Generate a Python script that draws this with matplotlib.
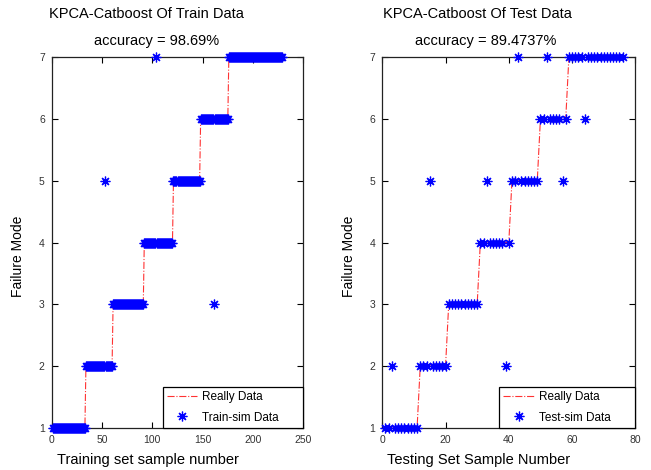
import numpy as np
import matplotlib
matplotlib.use("Agg")
import matplotlib.pyplot as plt

plt.rcParams['font.family'] = ['Liberation Sans', 'DejaVu Sans']

# sample counts per failure mode (modes 1..7)
train_counts = [33, 27, 31, 29, 27, 28, 54]
test_counts = [11, 9, 10, 10, 9, 9, 18]

# misclassified samples: (sample number, predicted mode)
train_errors = [(53, 5), (104, 7), (161, 3)]
test_errors = [(3, 2), (15, 5), (33, 5), (39, 2), (43, 7), (52, 7), (57, 5), (64, 6)]

train_title = 'KPCA-Catboost Of Train Data'
test_title = 'KPCA-Catboost Of Test Data'
train_acc = 'accuracy = 98.69%'
test_acc = 'accuracy = 89.4737%'


def build(counts, errors):
    true = np.repeat(np.arange(1, 8), counts)
    pred = true.copy()
    for idx, p in errors:
        pred[idx - 1] = p
    return true, pred


def panel(ax, counts, errors, xmax, xticks, xlabel, simlabel, leg_x0):
    true, pred = build(counts, errors)
    x = np.arange(1, len(true) + 1)
    ax.plot(x, true, color='#ff3333', linestyle='-.', linewidth=0.8, label='Really Data')
    ax.plot(x, pred, linestyle='none', marker=(8, 2, 0), markersize=7,
            markeredgewidth=0.9, color='#0000ff', label=simlabel, clip_on=False,
            zorder=3)
    ax.set_xlim(0, xmax)
    ax.set_ylim(1, 7)
    ax.set_xticks(xticks)
    ax.set_yticks(range(1, 8))
    ax.tick_params(direction='in', top=True, right=True, labelsize=7.5,
                   labelcolor='#333333', length=4, width=0.8, pad=5)
    for s in ax.spines.values():
        s.set_linewidth(0.9)
        s.set_color('#222222')
    ax.set_xlabel(xlabel, fontsize=10.5)
    ax.set_ylabel('Failure Mode', fontsize=10)
    ax.xaxis.set_label_coords(0.382, -0.068)
    ax.yaxis.set_label_coords(-0.105, 0.462)
    leg = ax.legend(loc='lower left', bbox_to_anchor=(leg_x0, 0, 1 - leg_x0, 0.11),
                    mode='expand', fontsize=8.5, fancybox=False, framealpha=1,
                    edgecolor='black', borderpad=0.35, labelspacing=0.75,
                    handlelength=2.6, handletextpad=0.4, borderaxespad=0)
    leg.get_frame().set_linewidth(0.9)
    leg.set_zorder(5)


fig = plt.figure(figsize=(6.51, 4.70), dpi=100)
ax1 = fig.add_axes([51.7 / 651, 1 - 427.7 / 470, 251.6 / 651, 370.4 / 470])
ax2 = fig.add_axes([382.3 / 651, 1 - 427.7 / 470, 253.0 / 651, 370.4 / 470])

panel(ax1, train_counts, train_errors, 250, [0, 50, 100, 150, 200, 250],
      'Training set sample number', 'Train-sim Data', 0.441)
panel(ax2, test_counts, test_errors, 80, [0, 20, 40, 60, 80],
      'Testing Set Sample Number', 'Test-sim Data', 0.462)

fig.text(146.5 / 651, 1 - 14 / 470, train_title, ha='center', va='center', fontsize=10.5)
fig.text(157 / 651, 1 - 41 / 470, train_acc, ha='center', va='center', fontsize=10.5)
fig.text(477 / 651, 1 - 14 / 470, test_title, ha='center', va='center', fontsize=10.5)
fig.text(485.5 / 651, 1 - 41 / 470, test_acc, ha='center', va='center', fontsize=10.5)

fig.savefig('out.png', dpi=100)
